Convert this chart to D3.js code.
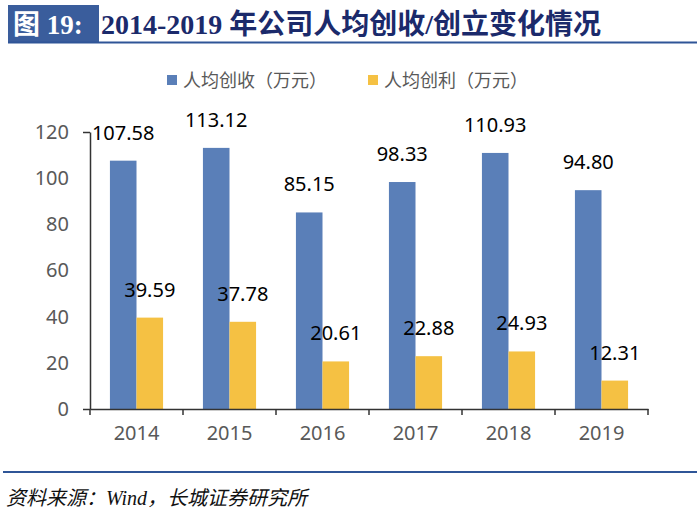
<!DOCTYPE html>
<html>
<head>
<meta charset="utf-8">
<script src="https://cdn.jsdelivr.net/npm/d3@7"></script>
<style>
  body { margin: 0; background: #fff; }
  svg { display: block; }
</style>
</head>
<body>
<div id="chart"></div>
<script>
// chart data
const years = ['2014', '2015', '2016', '2017', '2018', '2019'];
const revenuePerHead = [107.58, 113.12, 85.15, 98.33, 110.93, 94.80];
const profitPerHead = [39.59, 37.78, 20.61, 22.88, 24.93, 12.31];
const seriesNames = ['人均创收（万元）', '人均创利（万元）'];
const yTicks = [0, 20, 40, 60, 80, 100, 120];

const colors = ['#5A7FB8', '#F5C143'];
const width = 700, height = 508;
const margin = { top: 132, right: 52, bottom: 99, left: 90 };

const svg = d3.select('#chart')
  .append('svg')
  .attr('width', width)
  .attr('height', height);

// title bar
svg.append('rect')
  .attr('x', 8).attr('y', 5).attr('width', 91).attr('height', 37)
  .attr('fill', '#3A5D9C');
svg.append('text')
  .attr('x', 13).attr('y', 34)
  .attr('fill', '#fff')
  .style('font-family', '"Liberation Serif", "Noto Sans CJK SC", serif')
  .style('font-weight', 'bold')
  .style('font-size', '27px')
  .text('图 19:');
svg.append('text')
  .attr('x', 101).attr('y', 34)
  .attr('fill', '#1B2A6B')
  .style('font-family', '"Liberation Serif", "Noto Sans CJK SC", serif')
  .style('font-weight', 'bold')
  .style('font-size', '28px')
  .text('2014-2019 年公司人均创收/创立变化情况');
svg.append('line')
  .attr('x1', 8).attr('x2', 697).attr('y1', 42.5).attr('y2', 42.5)
  .attr('stroke', '#2F5597').attr('stroke-width', 2);

// footer
svg.append('line')
  .attr('x1', 3).attr('x2', 697).attr('y1', 472).attr('y2', 472)
  .attr('stroke', '#2F5597').attr('stroke-width', 2);
svg.append('text')
  .attr('x', 6).attr('y', 498)
  .attr('dy', '0.35em')
  .attr('fill', '#111')
  .style('font-family', '"Liberation Serif", "Noto Sans CJK SC", serif')
  .style('font-style', 'italic')
  .style('font-size', '20px')
  .text('资料来源：Wind，长城证券研究所');

// scales
const x = d3.scaleBand()
  .domain(years)
  .range([margin.left, width - margin.right]);
const xInner = d3.scaleBand()
  .domain([0, 1])
  .range([0, x.bandwidth()])
  .paddingOuter(0.75);
const y = d3.scaleLinear()
  .domain([0, 120])
  .range([height - margin.bottom, margin.top]);

const chart = svg.append('g');

// bars
const groups = chart.selectAll('.year')
  .data(years.map((yr, i) => ({ yr, vals: [revenuePerHead[i], profitPerHead[i]] })))
  .join('g')
  .attr('class', 'year')
  .attr('transform', d => `translate(${x(d.yr)},0)`);

groups.selectAll('rect')
  .data(d => d.vals.map((v, k) => ({ v, k })))
  .join('rect')
  .attr('x', d => xInner(d.k))
  .attr('width', xInner.bandwidth())
  .attr('y', d => y(d.v))
  .attr('height', d => y(0) - y(d.v))
  .attr('fill', d => colors[d.k]);

groups.selectAll('text')
  .data(d => d.vals.map((v, k) => ({ v, k })))
  .join('text')
  .attr('x', d => xInner(d.k) + xInner.bandwidth() / 2)
  .attr('y', d => y(d.v) - 28)
  .attr('dy', '0.35em')
  .attr('text-anchor', 'middle')
  .attr('fill', '#000')
  .style('font-family', '"Noto Sans", "Open Sans", sans-serif')
  .style('font-size', '20px')
  .text(d => d.v.toFixed(2));

// y axis
const yAxis = chart.append('g')
  .attr('transform', `translate(${margin.left},0)`)
  .call(d3.axisLeft(y).tickValues(yTicks).tickSize(0).tickPadding(21));
yAxis.select('.domain').attr('stroke', '#333').attr('stroke-width', 1.5);
yAxis.selectAll('text')
  .attr('fill', '#595959')
  .style('font-family', '"Noto Sans", "Open Sans", sans-serif')
  .style('font-size', '20px');
yAxis.selectAll('.tick')
  .filter(d => d === 0 || d === 120)
  .append('line')
  .attr('x1', -7).attr('x2', 0)
  .attr('stroke', '#333').attr('stroke-width', 1.5);

// x axis
const xAxis = chart.append('g')
  .attr('transform', `translate(0,${y(0)})`)
  .call(d3.axisBottom(x).tickSize(0).tickPadding(17));
xAxis.select('.domain').attr('stroke', '#333').attr('stroke-width', 1.5);
xAxis.selectAll('text')
  .attr('fill', '#595959')
  .style('font-family', '"Noto Sans", "Open Sans", sans-serif')
  .style('font-size', '20px');
xAxis.selectAll('.edge')
  .data(years.map(yr => x(yr)).concat([x(years[years.length - 1]) + x.bandwidth()]))
  .join('line')
  .attr('class', 'edge')
  .attr('x1', d => d).attr('x2', d => d)
  .attr('y1', 0).attr('y2', 6)
  .attr('stroke', '#333').attr('stroke-width', 1.5);

// legend
const legendX = [167, 368];
const legend = svg.append('g');
seriesNames.forEach((name, i) => {
  legend.append('rect')
    .attr('x', legendX[i]).attr('y', 75)
    .attr('width', 10).attr('height', 10)
    .attr('fill', colors[i]);
  legend.append('text')
    .attr('x', legendX[i] + 16).attr('y', 81)
    .attr('dy', '0.35em')
    .attr('fill', '#595959')
    .style('font-family', '"Noto Sans CJK SC", sans-serif')
    .style('font-size', '18px')
    .text(name);
});
</script>
</body>
</html>
